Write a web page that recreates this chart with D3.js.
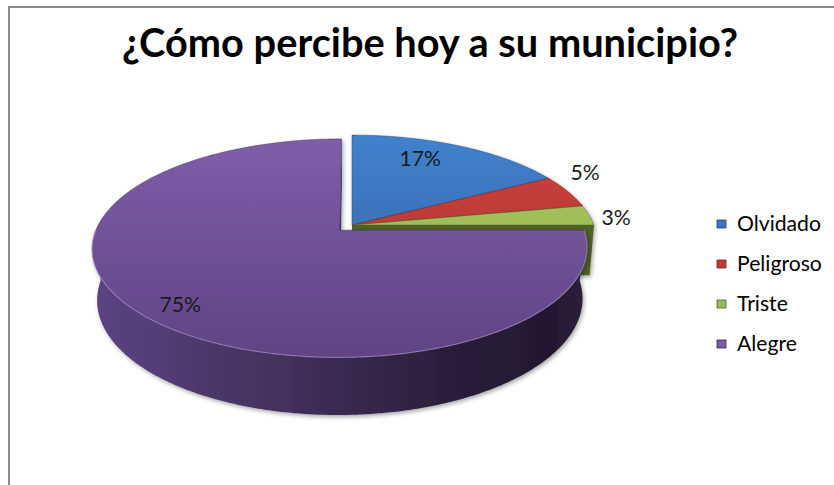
<!DOCTYPE html>
<html><head><meta charset="utf-8">
<script src="https://cdn.jsdelivr.net/npm/d3@7"></script>
<style>body{margin:0;background:#fff} svg{display:block}</style>
</head><body><svg id="c" width="834" height="485"></svg>
<script>
const title = "¿Cómo percibe hoy a su municipio?";
const categories = ["Olvidado", "Peligroso", "Triste", "Alegre"];
const values = [17, 5, 3, 75];
const percentLabels = ["17%", "5%", "3%", "75%"];
const explodedSlice = "Alegre";

// styles
const topLight = ["#4282cd", "#cc433f", "#adcb62", "#7f5eaa"];
const topDark  = ["#2c5c9b", "#a52e2a", "#8aa84b", "#5f4482"];
const faceCol  = ["#22487a", "#7f2220", "#4f6228", "#3b2a55"];
const legendCol = ["#3a74bd", "#c0393a", "#9bbb59", "#7b5aa6"];

const svg = d3.select("#c");
const W = 834, H = 485;
const defs = svg.append("defs");

// border
svg.append("path").attr("d", `M9,${H} L9,7 L${W},7`).attr("fill", "none")
  .attr("stroke", "#8c8c8c").attr("stroke-width", 2);

// 3D projection
const A = 242, sinP = 0.432, cosP = Math.sqrt(1 - sinP * sinP), D = cosP / 0.163, h = 0.235;
const cx = 352, cy = 225, explode = 0.07;
function proj(x, v, z) {
  const depth = v * cosP + z * sinP;
  const s = 1 / (1 - depth / D);
  return [cx + A * x * s, cy - A * (z * cosP - v * sinP) * s];
}

const pie = d3.pie().sort(null).startAngle(0).endAngle(2 * Math.PI)(values);
const slices = pie.map((p, i) => {
  const mid = (p.startAngle + p.endAngle) / 2;
  const ex = categories[i] === explodedSlice ? explode : 0;
  return { i, a0: p.startAngle, a1: p.endAngle, mid, o: [ex * Math.sin(mid), -ex * Math.cos(mid)] };
});
const pt = (o, r, t, z) => proj(o[0] + r * Math.sin(t), o[1] - r * Math.cos(t), z);
const arcPts = (o, a0, a1, z) => {
  const n = Math.max(2, Math.ceil((a1 - a0) / 0.01));
  return d3.range(n + 1).map(k => pt(o, 1, a0 + (a1 - a0) * k / n, z));
};
const line = d3.line();

// gradients
slices.forEach(s => {
  const g = defs.append("linearGradient").attr("id", "top" + s.i)
    .attr("gradientUnits", "userSpaceOnUse").attr("x1", 0).attr("y1", 135).attr("x2", 0).attr("y2", 360);
  g.append("stop").attr("offset", 0).attr("stop-color", topLight[s.i]);
  g.append("stop").attr("offset", 1).attr("stop-color", topDark[s.i]);
});
const wg = defs.append("linearGradient").attr("id", "wall")
  .attr("gradientUnits", "userSpaceOnUse").attr("x1", 95).attr("y1", 0).attr("x2", 590).attr("y2", 0);
[[0, "#5b4382"], [0.35, "#45325f"], [0.7, "#2b1f3b"], [0.92, "#231830"], [1, "#2e2140"]]
  .forEach(([o, c]) => wg.append("stop").attr("offset", o).attr("stop-color", c));
const sh = defs.append("filter").attr("id", "shadow").attr("x", "-10%").attr("y", "-10%").attr("width", "120%").attr("height", "130%");
sh.append("feDropShadow").attr("dx", 1.5).attr("dy", 2).attr("stdDeviation", 2)
  .attr("flood-color", "#000").attr("flood-opacity", 0.35);

// camera world position for face visibility
const cam = [0, D * cosP, D * sinP];
function drawSlice(g, s) {
  const { o, a0, a1, i } = s;
  // radial faces
  [[a0, -1], [a1, 1]].forEach(([a, sgn]) => {
    const n = [sgn * Math.cos(a), sgn * Math.sin(a)];
    const m = [o[0] + 0.5 * Math.sin(a), o[1] - 0.5 * Math.cos(a), -h / 2];
    const dot = n[0] * (cam[0] - m[0]) + n[1] * (cam[1] - m[1]);
    if (dot > 0.02) {
      const c0 = proj(o[0], o[1], 0), e0 = pt(o, 1, a, 0), e1 = pt(o, 1, a, -h), c1 = proj(o[0], o[1], -h);
      g.append("path").attr("d", line([c0, e0, e1, c1]) + "Z").attr("fill", faceCol[i]);
    }
  });
  // outer wall (front half)
  const w0 = Math.max(a0, Math.PI / 2), w1 = Math.min(a1, 3 * Math.PI / 2);
  if (w1 > w0) {
    const top = arcPts(o, w0, w1, 0), bot = arcPts(o, w0, w1, -h).reverse();
    g.append("path").attr("d", line(top.concat(bot)) + "Z").attr("fill", "url(#wall)");
  }
}
function drawTop(g, s) {
  const { o, a0, a1, i } = s;
  const pts = [proj(o[0], o[1], 0)].concat(arcPts(o, a0, a1, 0));
  g.append("path").attr("d", line(pts) + "Z").attr("fill", `url(#top${i})`)
    .attr("stroke", faceCol[i]).attr("stroke-width", 0.8).attr("stroke-opacity", 0.6);
  const w0 = Math.max(a0, Math.PI / 2), w1 = Math.min(a1, 3 * Math.PI / 2);
  if (w1 > w0) {
    g.append("path").attr("d", line(arcPts(o, w0, w1, 0))).attr("fill", "none")
      .attr("stroke", "#a58ccc").attr("stroke-width", 1.2).attr("stroke-opacity", 0.7);
  }
}
const back = slices.filter(s => categories[s.i] !== explodedSlice);
const front = slices.filter(s => categories[s.i] === explodedSlice);
const gBack = svg.append("g").attr("filter", "url(#shadow)");
back.forEach(s => drawSlice(gBack, s));
back.forEach(s => drawTop(gBack, s));
const gFront = svg.append("g").attr("filter", "url(#shadow)");
front.forEach(s => drawSlice(gFront, s));
front.forEach(s => drawTop(gFront, s));

// data labels
const labelR = [0.6, 1.085, 1.115, 0.83];
const labelDy = [-9, -9, 11, 13];
const font = "Lato, 'Open Sans', sans-serif";
slices.forEach(s => {
  const p = pt(s.o, labelR[s.i], s.mid, 0);
  svg.append("text").attr("x", p[0]).attr("y", p[1] + labelDy[s.i])
    .attr("text-anchor", "middle").attr("font-family", font).attr("font-size", 19)
    .attr("fill", "#1a1a1a").text(percentLabels[s.i]);
});

// title
const t = svg.append("text").attr("x", 430).attr("y", 57).attr("text-anchor", "middle")
  .attr("font-family", font).attr("font-weight", "bold").attr("font-size", 36).attr("fill", "#000").text(title);
const tw = t.node().getComputedTextLength();
t.attr("font-size", 36 * 616 / tw);

// legend
const ly = d3.scalePoint().domain(categories).range([231, 351]);
const lg = svg.append("g");
categories.forEach((c, i) => {
  const y = ly(c);
  lg.append("rect").attr("x", 717).attr("y", y - 11).attr("width", 9).attr("height", 8)
    .attr("fill", legendCol[i]).attr("stroke", faceCol[i]).attr("stroke-width", 0.8);
  lg.append("text").attr("x", 737).attr("y", y).attr("font-family", font).attr("font-size", 19)
    .attr("fill", "#000").text(c);
});
const lw = lg.select("text").node().getComputedTextLength();
const fs = 19 * 84 / lw;
lg.selectAll("text").attr("font-size", fs);
svg.selectAll("text").filter(function () { return this.getAttribute("font-size") === "19"; }).attr("font-size", fs);
</script></body></html>
